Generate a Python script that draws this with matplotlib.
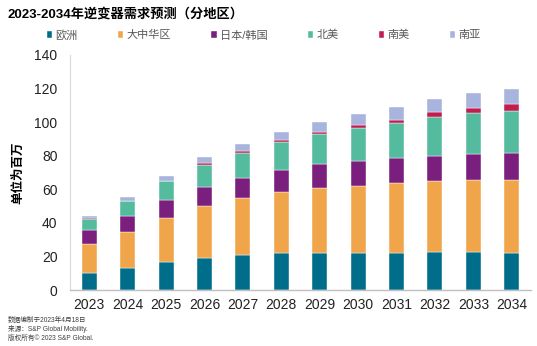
import matplotlib.pyplot as plt
import numpy as np

plt.rcParams['font.family'] = ['Liberation Sans', 'Noto Sans CJK SC', 'DejaVu Sans']

years = ['2023', '2024', '2025', '2026', '2027', '2028', '2029', '2030',
         '2031', '2032', '2033', '2034']
regions = ['欧洲', '大中华区', '日本/韩国', '北美', '南美', '南亚']
colors = ['#006e8a', '#f0a54b', '#7a1f7d', '#55bb9e', '#c21d50', '#a9b4de']

europe = [10.0, 13.3, 16.5, 19.1, 20.8, 21.8, 22.2, 22.2, 22.2, 22.4, 22.4, 22.2]
china = [17.2, 21.2, 26.6, 30.9, 33.8, 36.4, 38.6, 39.9, 41.3, 42.3, 43.1, 43.5]
japan_korea = [8.5, 9.8, 10.5, 11.5, 12.4, 13.3, 14.1, 14.7, 15.3, 15.3, 15.5, 16.1]
north_america = [6.6, 8.5, 11.1, 13.1, 14.8, 16.6, 18.0, 19.9, 20.9, 22.9, 24.2, 25.0]
south_america = [0.3, 0.3, 0.4, 0.8, 1.0, 1.2, 1.4, 1.6, 1.7, 2.9, 3.4, 3.8]
south_asia = [1.5, 2.5, 2.8, 3.6, 4.0, 5.0, 5.8, 6.5, 7.6, 8.1, 8.9, 9.3]

series = [europe, china, japan_korea, north_america, south_america, south_asia]

fig = plt.figure(figsize=(5.37, 3.46), dpi=100)
ax = fig.add_axes([70 / 537, 56 / 346, 461 / 537, 235 / 346])

x = np.arange(len(years))
bottom = np.zeros(len(years))
for name, vals, c in zip(regions, series, colors):
    ax.bar(x, vals, width=0.39, bottom=bottom, color=c, label=name,
           edgecolor='white', linewidth=0.3)
    bottom += np.array(vals)

ax.set_xlim(-0.5, len(years) - 0.5)
ax.set_ylim(0, 140)
ax.set_yticks(range(0, 141, 20))
ax.set_xticks(x)
ax.set_xticklabels(years)
ax.tick_params(length=0, labelsize=10, colors='#222222')
ax.tick_params(axis='y', pad=9)
ax.tick_params(axis='x', pad=6)
for s in ['top', 'right']:
    ax.spines[s].set_visible(False)
ax.spines['left'].set_color('#d9d9d9')
ax.spines['bottom'].set_color('#bfbfbf')
ax.spines['bottom'].set_linewidth(1.0)

ax.set_ylabel('单位为百万', fontsize=9, fontweight='bold')
ax.yaxis.set_label_coords(-46 / 461, 0.5)

fig.text(8 / 537, 1 - 14 / 346, '2023-2034年逆变器需求预测（分地区）',
         fontsize=9.5, fontweight='bold', va='center', ha='left')

leg = fig.legend(loc='center left', bbox_to_anchor=(41 / 537, 1 - 35 / 346), ncol=6,
                 frameon=False, fontsize=8, handlelength=0.5, handleheight=0.5,
                 handletextpad=0.3, columnspacing=3.6, borderpad=0)
for t in leg.get_texts():
    t.set_color('#595959')

notes = ['数据编制于2023年4月18日', '来源：S&P Global Mobility.', '版权所有© 2023 S&P Global.']
for i, t in enumerate(notes):
    fig.text(8 / 537, 1 - (320 + i * 9) / 346, t, fontsize=4.8, color='#404040',
             va='center', ha='left')

fig.savefig('out.png', dpi=100)
